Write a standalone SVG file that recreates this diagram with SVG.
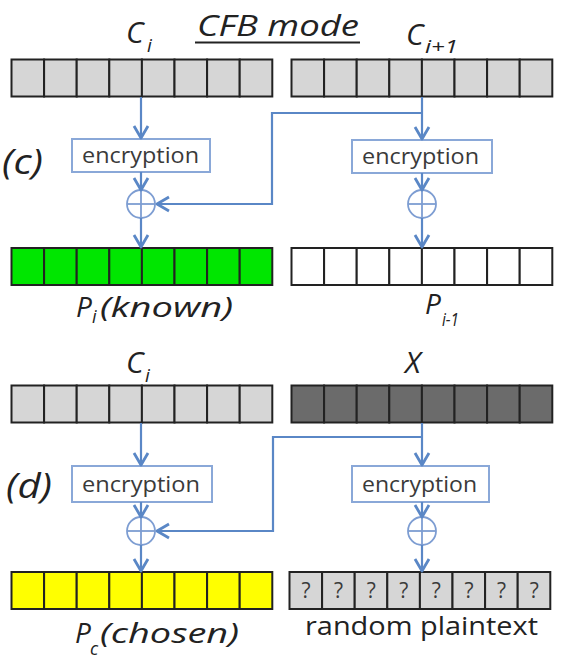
<svg xmlns="http://www.w3.org/2000/svg" xmlns:xlink="http://www.w3.org/1999/xlink" width="566" height="661" viewBox="0 0 566 661">
<style>
  .lbl { font-family: "Open Sans", "Liberation Sans", sans-serif; fill: #222; }
  .it { font-style: italic; }
  .enc { fill: #fff; stroke: #8aa8d8; stroke-width: 2; }
  .enct { font-family: "Open Sans", "Liberation Sans", sans-serif; font-size: 22px; fill: #3a3a3a; }
  .conn { fill: none; stroke: #5a87c6; stroke-width: 2.2; }
  .xor { fill: none; stroke: #7d9dd2; stroke-width: 1.8; }
  .q { font-family: "Open Sans", "Liberation Sans", sans-serif; font-size: 21px; fill: #3a3a3a; text-anchor: middle; }
</style>
<defs>
  <marker id="arr" markerUnits="userSpaceOnUse" markerWidth="18" markerHeight="18" viewBox="0 0 18 18" refX="15" refY="9" orient="auto">
    <path d="M3,2 L15,9 L3,16" fill="none" stroke="#5a87c6" stroke-width="2.8" stroke-linejoin="round"/>
  </marker>
  <g id="row" stroke="#222" stroke-width="2">
    <rect x="0" y="0" width="32.6" height="37"/>
    <rect x="32.6" y="0" width="32.6" height="37"/>
    <rect x="65.2" y="0" width="32.6" height="37"/>
    <rect x="97.8" y="0" width="32.6" height="37"/>
    <rect x="130.4" y="0" width="32.6" height="37"/>
    <rect x="163" y="0" width="32.6" height="37"/>
    <rect x="195.6" y="0" width="32.6" height="37"/>
    <rect x="228.2" y="0" width="32.6" height="37"/>
  </g>
</defs>
<rect width="566" height="661" fill="#fff"/>

<!-- title -->
<g id="title">
  <text class="lbl it" x="197" y="36" font-size="30" textLength="162" lengthAdjust="spacingAndGlyphs">CFB mode</text>
  <line x1="195" y1="42.5" x2="360" y2="42.5" stroke="#222" stroke-width="2"/>
</g>

<!-- section (c) -->
<g id="label-c"><text class="lbl it" x="2" y="174" font-size="34" textLength="41" lengthAdjust="spacingAndGlyphs">(c)</text></g>

<g id="c-ci">
  <text class="lbl it" x="126" y="43" font-size="30">C</text>
  <text class="lbl it" x="147" y="52" font-size="19">i</text>
  <use xlink:href="#row" x="11.5" y="59.5" fill="#d6d6d6"/>
</g>
<g id="c-ci1">
  <text class="lbl it" x="406" y="45" font-size="30">C</text>
  <text class="lbl it" x="425" y="53" font-size="19" textLength="33" lengthAdjust="spacingAndGlyphs">i+1</text>
  <use xlink:href="#row" x="291.5" y="59.5" fill="#d6d6d6"/>
</g>
<g id="c-enc1">
  <rect class="enc" x="72" y="139" width="138" height="33"/>
  <text class="enct" x="82" y="163" textLength="117" lengthAdjust="spacingAndGlyphs">encryption</text>
</g>
<g id="c-enc2">
  <rect class="enc" x="352" y="140" width="140" height="33"/>
  <text class="enct" x="362" y="164" textLength="117" lengthAdjust="spacingAndGlyphs">encryption</text>
</g>
<g id="c-xor1">
  <circle class="xor" cx="141" cy="204" r="14"/>
  <line class="xor" x1="127" y1="204" x2="155" y2="204"/>
  <line class="xor" x1="141" y1="190" x2="141" y2="218"/>
</g>
<g id="c-xor2">
  <circle class="xor" cx="422" cy="204" r="14"/>
  <line class="xor" x1="408" y1="204" x2="436" y2="204"/>
  <line class="xor" x1="422" y1="190" x2="422" y2="218"/>
</g>
<g id="c-pi">
  <use xlink:href="#row" x="11.5" y="248" fill="#00e600"/>
  <text class="lbl it" x="76" y="317" font-size="28">P</text>
  <text class="lbl it" x="92" y="323" font-size="18">i</text>
  <text class="lbl it" x="100" y="317" font-size="28" textLength="133" lengthAdjust="spacingAndGlyphs">(known)</text>
</g>
<g id="c-pim1">
  <use xlink:href="#row" x="291.5" y="248" fill="#ffffff"/>
  <text class="lbl it" x="425" y="314" font-size="28">P</text>
  <text class="lbl it" x="442" y="326" font-size="19" textLength="17" lengthAdjust="spacingAndGlyphs">i-1</text>
</g>

<!-- section (d) -->
<g id="label-d"><text class="lbl it" x="6" y="498" font-size="34" textLength="46" lengthAdjust="spacingAndGlyphs">(d)</text></g>

<g id="d-ci">
  <text class="lbl it" x="126" y="373" font-size="30">C</text>
  <text class="lbl it" x="145" y="382" font-size="19">i</text>
  <use xlink:href="#row" x="11.5" y="385.5" fill="#d6d6d6"/>
</g>
<g id="d-x">
  <text class="lbl it" x="405" y="373" font-size="30">X</text>
  <use xlink:href="#row" x="291.5" y="385.5" fill="#6b6b6b"/>
</g>
<g id="d-enc1">
  <rect class="enc" x="72" y="466" width="140" height="36"/>
  <text class="enct" x="82" y="492" textLength="118" lengthAdjust="spacingAndGlyphs">encryption</text>
</g>
<g id="d-enc2">
  <rect class="enc" x="352" y="466" width="137" height="36"/>
  <text class="enct" x="362" y="492" textLength="115" lengthAdjust="spacingAndGlyphs">encryption</text>
</g>
<g id="d-xor1">
  <circle class="xor" cx="141" cy="531" r="14"/>
  <line class="xor" x1="127" y1="531" x2="155" y2="531"/>
  <line class="xor" x1="141" y1="517" x2="141" y2="545"/>
</g>
<g id="d-xor2">
  <circle class="xor" cx="422" cy="531" r="14"/>
  <line class="xor" x1="408" y1="531" x2="436" y2="531"/>
  <line class="xor" x1="422" y1="517" x2="422" y2="545"/>
</g>
<g id="d-pc">
  <use xlink:href="#row" x="11.5" y="572" fill="#ffff00"/>
  <text class="lbl it" x="75" y="643" font-size="28">P</text>
  <text class="lbl it" x="90" y="655" font-size="18">c</text>
  <text class="lbl it" x="100" y="643" font-size="28" textLength="139" lengthAdjust="spacingAndGlyphs">(chosen)</text>
</g>
<g id="d-rand">
  <use xlink:href="#row" x="289.5" y="572" fill="#d6d6d6"/>
  <text class="q" x="306" y="598">?</text>
  <text class="q" x="338.6" y="598">?</text>
  <text class="q" x="371.2" y="598">?</text>
  <text class="q" x="403.8" y="598">?</text>
  <text class="q" x="436.4" y="598">?</text>
  <text class="q" x="469" y="598">?</text>
  <text class="q" x="501.6" y="598">?</text>
  <text class="q" x="534.2" y="598">?</text>
  <text class="lbl" x="305" y="635" font-size="26" textLength="233" lengthAdjust="spacingAndGlyphs">random plaintext</text>
</g>

<!-- connectors -->
<g id="connectors">
  <line class="conn" x1="141" y1="97" x2="141" y2="138" marker-end="url(#arr)"/>
  <line class="conn" x1="141" y1="172" x2="141" y2="190" marker-end="url(#arr)"/>
  <line class="conn" x1="141" y1="218" x2="141" y2="247" marker-end="url(#arr)"/>
  <line class="conn" x1="422" y1="97" x2="422" y2="139" marker-end="url(#arr)"/>
  <polyline class="conn" points="422,113 272,113 272,204 157,204" marker-end="url(#arr)"/>
  <line class="conn" x1="422" y1="173" x2="422" y2="190" marker-end="url(#arr)"/>
  <line class="conn" x1="422" y1="218" x2="422" y2="247" marker-end="url(#arr)"/>

  <line class="conn" x1="141" y1="423" x2="141" y2="465" marker-end="url(#arr)"/>
  <line class="conn" x1="141" y1="502" x2="141" y2="517" marker-end="url(#arr)"/>
  <line class="conn" x1="141" y1="545" x2="141" y2="571" marker-end="url(#arr)"/>
  <line class="conn" x1="422" y1="423" x2="422" y2="465" marker-end="url(#arr)"/>
  <polyline class="conn" points="422,437 273,437 273,531 157,531" marker-end="url(#arr)"/>
  <line class="conn" x1="422" y1="502" x2="422" y2="517" marker-end="url(#arr)"/>
  <line class="conn" x1="422" y1="545" x2="422" y2="571" marker-end="url(#arr)"/>
</g>
</svg>
